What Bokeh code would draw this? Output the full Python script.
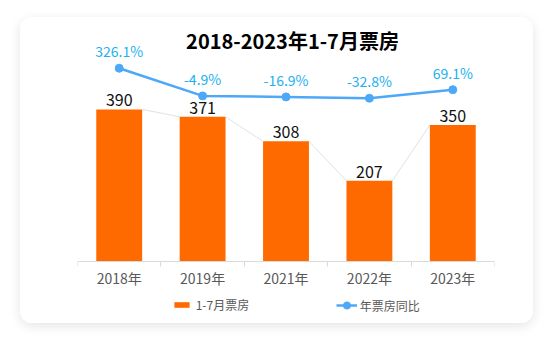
from bokeh.plotting import figure
from bokeh.models import ColumnDataSource, Range1d, FixedTicker, Legend, LegendItem, Label
from bokeh.core.properties import value
from bokeh.embed import file_html
from bokeh.resources import INLINE

# ---------------- data ----------------
categories = ["2018年", "2019年", "2021年", "2022年", "2023年"]
box_office = [390, 371, 308, 207, 350]
yoy = [326.1, -4.9, -16.9, -32.8, 69.1]
yoy_labels = ["326.1%", "-4.9%", "-16.9%", "-32.8%", "69.1%"]
bar_name = "1-7月票房"
line_name = "年票房同比"
title_text = "2018-2023年1-7月票房"

# ---------------- style ----------------
FONT = "Noto Sans CJK SC"
BAR_COLOR = "#FF6A00"
LINE_COLOR = "#4DA9F7"
PCT_COLOR = "#22B0F0"
AXIS_GRAY = "#d9d9d9"
TEXT_GRAY = "#595959"
BAR_W = 0.55

x = list(range(len(categories)))
src = ColumnDataSource(dict(
    x=x, v=box_office, vt=[str(v) for v in box_office], r=yoy, rt=yoy_labels))

p = figure(width=513, height=306, output_backend="svg", toolbar_location=None,
           x_range=Range1d(-0.5, len(categories) - 0.5), y_range=Range1d(-159, 625.6),
           y_axis_location=None,
           min_border_left=57, min_border_right=39, min_border_top=0, min_border_bottom=0)
p.margin = (17, 21, 19, 20)
p.styles = {"border-radius": "12px", "box-shadow": "0 3px 12px rgba(0,0,0,0.11)",
            "overflow": "hidden", "background-color": "white"}
p.extra_y_ranges = {"pct": Range1d(-2727, 933)}
p.background_fill_color = "white"
p.border_fill_color = "white"
p.outline_line_color = None
p.xgrid.visible = False
p.ygrid.visible = False

# connectors between bar tops
p.segment(x0=[xi + BAR_W / 2 for xi in x[:-1]], y0=box_office[:-1],
          x1=[xi - BAR_W / 2 for xi in x[1:]], y1=box_office[1:],
          line_color="#e2e2e2", line_width=1)

bars = p.vbar(x="x", top="v", width=BAR_W, source=src, fill_color=BAR_COLOR, line_color=None)
line = p.line("x", "r", source=src, y_range_name="pct", line_color=LINE_COLOR, line_width=2.5)
pts = p.scatter("x", "r", source=src, y_range_name="pct", size=8,
                fill_color=LINE_COLOR, line_color=LINE_COLOR)

p.text("x", "v", text="vt", source=src, text_align="center", text_baseline="alphabetic",
       y_offset=-9, text_font=value(FONT), text_font_size="16px", text_color="#111111")
p.text("x", "r", text="rt", source=src, y_range_name="pct", text_align="center",
       text_baseline="alphabetic", y_offset=-17, text_font=value(FONT),
       text_font_size="14px", text_color=PCT_COLOR)

# x axis, pinned at value 0 inside the frame
ax = p.xaxis[0]
ax.fixed_location = 0
ax.ticker = FixedTicker(ticks=x, minor_ticks=[i - 0.5 for i in range(len(categories) + 1)])
ax.major_label_overrides = {i: c for i, c in enumerate(categories)}
ax.major_tick_out = 0
ax.major_tick_in = 0
ax.minor_tick_out = 5
ax.minor_tick_in = 0
ax.minor_tick_line_color = AXIS_GRAY
ax.axis_line_color = AXIS_GRAY
ax.major_label_standoff = 2
ax.major_label_text_font = FONT
ax.major_label_text_font_size = "14px"
ax.major_label_text_color = TEXT_GRAY

# title
p.add_layout(Label(x=215, y=283, x_units="screen", y_units="screen", text=title_text,
                   text_align="center", text_baseline="middle", text_font=FONT,
                   text_font_size="20px", text_font_style="bold", text_color="black"))

# legends
leg_common = dict(orientation="horizontal", padding=0, margin=0, label_width=0,
                  border_line_color=None, background_fill_alpha=0,
                  label_text_font=FONT, label_text_font_size="12px",
                  label_text_color=TEXT_GRAY)
leg1 = Legend(items=[LegendItem(label=bar_name, renderers=[bars])], location=(94.7, 10.5),
              glyph_width=19, glyph_height=7, label_standoff=5, **leg_common)
leg2 = Legend(items=[LegendItem(label=line_name, renderers=[line, pts])], location=(258.7, 9),
              glyph_width=21, glyph_height=18, label_standoff=3, **leg_common)
p.add_layout(leg1)
p.add_layout(leg2)

open("out.html", "w").write(file_html(p, INLINE))
